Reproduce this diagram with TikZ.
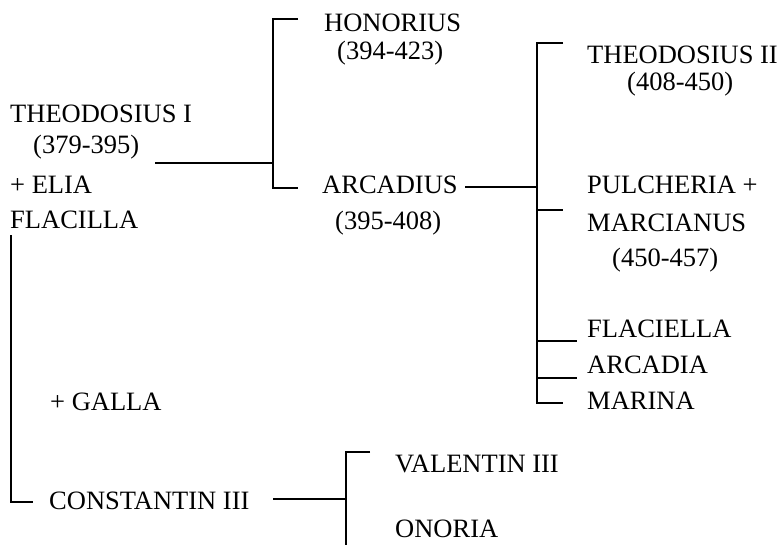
\documentclass[tikz,border=0pt]{standalone}
\usepackage{fontspec}
\setmainfont{Liberation Serif}
\usetikzlibrary{math}

\begin{document}
\begin{tikzpicture}[x=1pt,y=-1pt,
  person/.style={anchor=base west,inner sep=0pt,font=\fontsize{26.5}{30}\selectfont},
  link/.style={line width=1.6pt}]

\tikzmath{
\xa = 273; % first spine
\xb = 537; % second spine
\xc = 346; % third spine
\xl = 11;  % left spine
}

\useasboundingbox (0,0) rectangle (781,544);

%generation I
\node[person] (theo) at (10,122) {THEODOSIUS I};
\node[person] (theoD) at (33,153) {(379-395)};
\node[person] (elia) at (10,193) {+ ELIA};
\node[person] (flacilla) at (10,228) {FLACILLA};
\node[person] (galla) at (50,410) {+ GALLA};

%generation II
\node[person] (honorius) at (324,31) {HONORIUS};
\node[person] (honoriusD) at (337,59) {(394-423)};
\node[person] (arcadius) at (322,193) {ARCADIUS};
\node[person] (arcadiusD) at (335,229) {(395-408)};
\node[person] (constantin) at (49,509) {CONSTANTIN III};

%generation III
\node[person] (theoII) at (587,63) {THEODOSIUS II};
\node[person] (theoIID) at (627,90) {(408-450)};
\node[person] (pulcheria) at (587,193) {PULCHERIA +};
\node[person] (marcianus) at (587,231) {MARCIANUS};
\node[person] (marcianusD) at (612,266) {(450-457)};
\node[person] (flaciella) at (587,337) {FLACIELLA};
\node[person] (arcadia) at (587,373) {ARCADIA};
\node[person] (marina) at (587,409) {MARINA};
\node[person] (valentin) at (395,472) {VALENTIN III};
\node[person,text depth=0pt] (onoria) at (395,537) {ONORIA};

%joints
\coordinate (j1) at (155,163);
\coordinate (s1) at (\xa,163);
\coordinate (j2) at (465,187);
\coordinate (s2) at (\xb,187);
\coordinate (j3) at (273,499);
\coordinate (s3) at (\xc,499);

%branches
\draw[link] (j1) -- (s1);
\draw[link] (298,19) -- (\xa,19) -- (\xa,188) -- (298,188);

\draw[link] (j2) -- (s2);
\draw[link] (563,43) -- (\xb,43) -- (\xb,403) -- (563,403);
\draw[link] (\xb,210) -- (563,210);
\draw[link] (\xb,341) -- (577,341);
\draw[link] (\xb,378) -- (577,378);

\draw[link] (\xl,235) -- (\xl,502) -- (33,502);

\draw[link] (j3) -- (s3);
\draw[link] (370,452) -- (\xc,452) -- (\xc,560);

\end{tikzpicture}
\end{document}
